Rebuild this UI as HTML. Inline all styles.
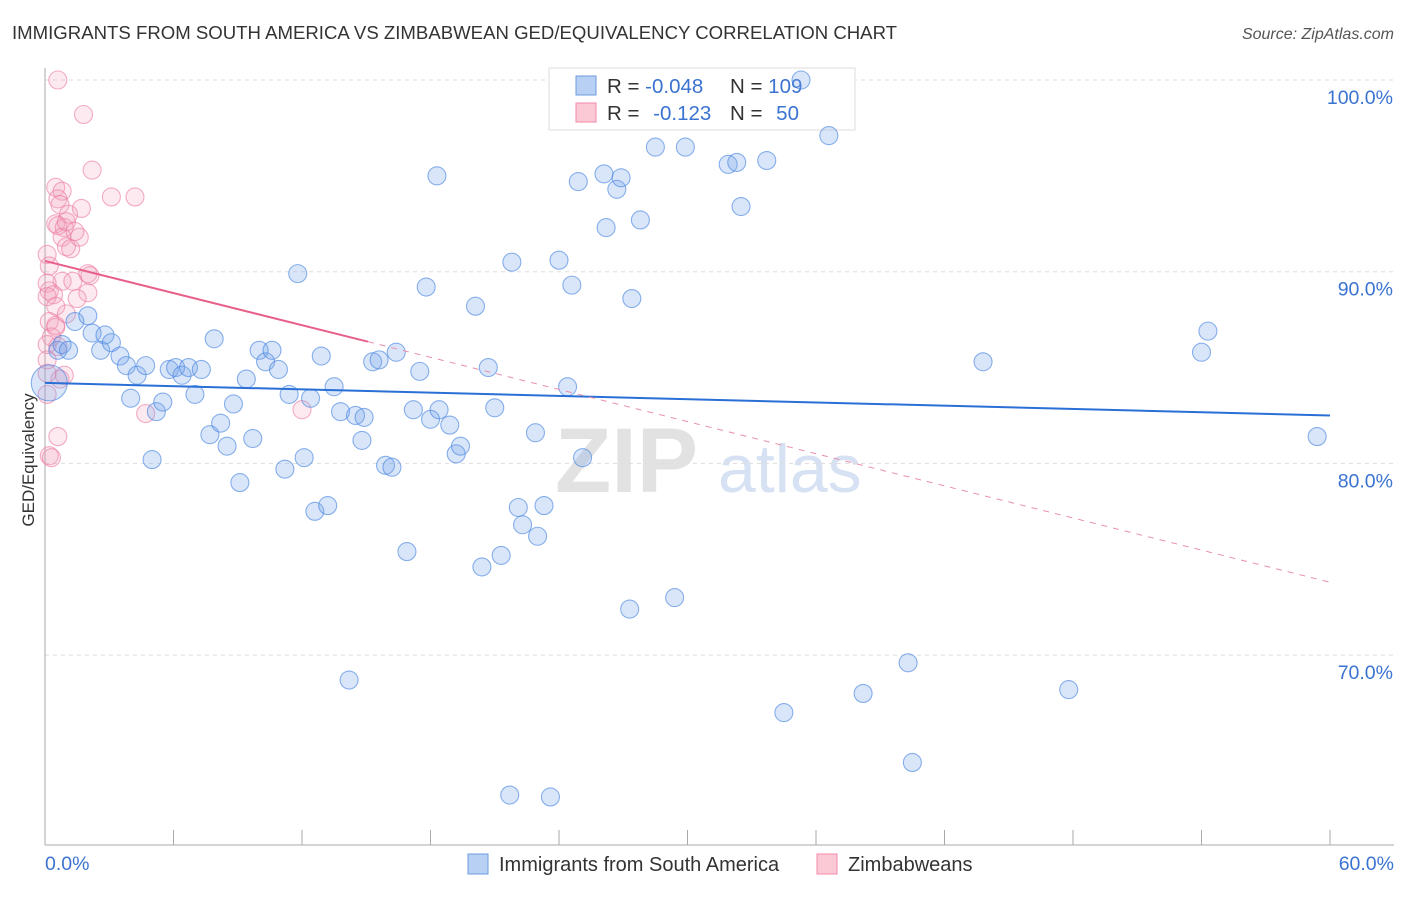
<!DOCTYPE html>
<html><head><meta charset="utf-8"><style>
body{margin:0;background:#fff;font-family:"Liberation Sans",sans-serif;}
svg text{font-family:"Liberation Sans",sans-serif;}
</style></head><body>
<svg width="1406" height="892" xmlns="http://www.w3.org/2000/svg" id="chart">
<text x="12" y="39" font-size="18.6" fill="#333">IMMIGRANTS FROM SOUTH AMERICA VS ZIMBABWEAN GED/EQUIVALENCY CORRELATION CHART</text>
<text x="1394" y="39" font-size="16" fill="#555" text-anchor="end" font-style="italic">Source: ZipAtlas.com</text>
<text transform="translate(34,460) rotate(-90)" font-size="17" fill="#333" text-anchor="middle">GED/Equivalency</text>
<g><text x="555" y="492" font-size="92" fill="#e2e2e2" font-family="Liberation Serif" font-weight="bold">ZIP</text><text x="718" y="492" font-size="68" fill="#d6e2f3">atlas</text></g>
<g id="grid"></g><g id="axes"></g>
<g>
<rect x="549" y="68" width="306" height="62" fill="#fff" stroke="#ddd"/>
<rect x="576" y="76" width="20" height="19" fill="#b7d0f3" stroke="#6d9be0"/>
<rect x="576" y="103" width="20" height="19" fill="#fbc8d6" stroke="#f08aaa"/>
<text x="607" y="93" font-size="20.5" fill="#333">R = <tspan fill="#3b73d1">-0.048</tspan></text>
<text x="730" y="93" font-size="20.5" fill="#333">N = <tspan fill="#3b73d1">109</tspan></text>
<text x="607" y="120" font-size="20.5" fill="#333">R = <tspan fill="#3b73d1" dx="8">-0.123</tspan></text>
<text x="730" y="120" font-size="20.5" fill="#333">N = <tspan fill="#3b73d1" dx="8">50</tspan></text>
</g>
<g id="marks"></g><g id="trends"></g>
<g>
<rect x="468" y="854" width="20" height="20" fill="#b7d0f3" stroke="#6d9be0"/>
<text x="499" y="871" font-size="20" fill="#333">Immigrants from South America</text>
<rect x="817" y="854" width="20" height="20" fill="#fbc8d6" stroke="#f08aaa"/>
<text x="848" y="871" font-size="20" fill="#333">Zimbabweans</text>
</g>
</svg>
<script>
const xTicks=[0,6,12,18,24,30,36,42,48,54,60];
const yTicks=[70,80,90,100];
const yTickLabels=["70.0%","80.0%","90.0%","100.0%"];
const xLabels=["0.0%","60.0%"];
const blueX=[0.2,0.6,0.8,1.1,1.4,2.0,2.2,2.6,2.8,3.1,3.5,3.8,4.3,4.7,4.0,5.2,5.5,5.0,5.8,6.1,6.4,6.7,7.0,7.3,7.7,7.9,8.2,8.5,8.8,9.1,9.4,9.7,10.0,10.3,10.6,10.9,11.2,11.4,11.8,12.1,12.4,12.6,12.9,13.2,13.5,13.8,14.2,14.5,14.8,14.9,15.3,15.6,15.9,16.2,16.4,16.9,17.2,17.5,17.8,18.0,18.3,18.4,18.9,19.2,19.4,20.1,20.4,20.7,21.0,21.3,21.7,21.8,22.1,22.3,22.9,23.0,23.3,23.6,24.0,24.4,24.6,24.9,25.1,26.1,26.2,26.7,26.9,27.3,27.4,27.8,28.5,29.4,29.9,31.9,32.3,32.5,33.7,34.5,35.3,36.6,38.2,40.3,40.5,43.8,47.8,54.0,54.3,59.4];
const blueY=[84.2,85.9,86.2,85.9,87.4,87.7,86.8,85.9,86.7,86.3,85.6,85.1,84.6,85.1,83.4,82.7,83.2,80.2,84.9,85.0,84.6,85.0,83.6,84.9,81.5,86.5,82.1,80.9,83.1,79.0,84.4,81.3,85.9,85.3,85.9,84.9,79.7,83.6,89.9,80.3,83.4,77.5,85.6,77.8,84.0,82.7,68.7,82.5,81.2,82.4,85.3,85.4,79.9,79.8,85.8,75.4,82.8,84.8,89.2,82.3,95.0,82.8,82.0,80.5,80.9,88.2,74.6,85.0,82.9,75.2,62.7,90.5,77.7,76.8,81.6,76.2,77.8,62.6,90.6,84.0,89.3,94.7,80.3,95.1,92.3,94.3,94.9,72.4,88.6,92.7,96.5,73.0,96.5,95.6,95.7,93.4,95.8,67.0,100.0,97.1,68.0,69.6,64.4,85.3,68.2,85.8,86.9,81.4];
const pinkX=[0.6,1.8,2.2,0.5,0.8,0.6,0.7,0.5,1.1,0.6,0.9,1.7,3.1,4.2,0.8,1.0,1.2,1.6,0.1,0.2,2.0,2.1,0.8,1.3,0.1,0.2,0.4,0.1,2.0,0.5,1.0,0.2,0.5,0.3,0.1,0.6,0.1,0.1,4.7,12.0,0.6,0.2,0.3,0.5,0.1,0.7,0.9,1.0,1.4,1.5];
const pinkY=[100.0,98.2,95.3,94.4,94.2,93.8,93.5,92.5,93.0,92.4,92.3,93.3,93.9,93.9,91.8,91.3,91.2,91.8,90.9,90.3,89.9,89.8,89.5,89.5,89.4,89.0,88.8,88.7,88.9,88.2,87.8,87.4,87.1,86.6,86.2,86.1,84.7,83.6,82.6,82.8,81.4,80.4,80.3,87.2,85.4,84.4,84.6,92.6,92.1,88.6];
const blueTrend=[[0,84.2],[60,82.5]];
const pinkTrendSolid=[[0,90.56],[15.08,86.35]];
const pinkTrendDash=[[15.08,86.35],[60,73.8]];
const NS="http://www.w3.org/2000/svg";
const X0=45,X1=1330,Y100=80,PX10=191.7;
const xs=v=>X0+(v/60)*(X1-X0);
const ys=v=>Y100+(100-v)/10*PX10;
function mk(tag,parent,attrs){const e=document.createElementNS(NS,tag);for(const k in attrs)e.setAttribute(k,attrs[k]);document.getElementById(parent).appendChild(e);return e;}
yTicks.forEach((t,i)=>{
 const l=mk('line','grid',{x1:X0,x2:1394,y1:ys(t),y2:ys(t),stroke:'#ddd','stroke-dasharray':'4,4'});
 
 
 const tx=mk('text','grid',{x:1393,y:ys(t)+24,'font-size':19.5,fill:'#3b73d1','text-anchor':'end'});
 tx.textContent=yTickLabels[i];
 
 
});
const ax=mk('line','axes',{x1:X0,x2:X0,y1:68,y2:845,stroke:'#aaa'});


const bx=mk('line','axes',{x1:X0,x2:1394,y1:845,y2:845,stroke:'#aaa'});


xTicks.forEach(t=>{const l=mk('line','axes',{x1:xs(t),x2:xs(t),y1:830,y2:845,stroke:'#aaa'});
 
 });
[[0,'start',45],[60,'end',1394]].forEach((d,i)=>{const t=mk('text','axes',{x:d[2],y:870,'font-size':19.5,fill:'#3b73d1','text-anchor':d[1]});t.textContent=xLabels[i];
 
 });
function pts(X,Y,fill,stroke,name){X.forEach((x,i)=>{const big=(name==='blue-point'&&i===0);
 const c=mk('circle','marks',{cx:xs(x),cy:ys(Y[i]),r:big?18:9,fill:fill,stroke:stroke,'stroke-width':1.1});
 
 });}
pts(pinkX,pinkY,'rgba(243,160,188,0.22)','rgba(236,120,160,0.6)','pink-point');
pts(blueX,blueY,'rgba(120,165,235,0.28)','rgba(70,130,225,0.62)','blue-point');
function tl(p,stroke,w,dash,name){const l=mk('line','trends',{x1:xs(p[0][0]),y1:ys(p[0][1]),x2:xs(p[1][0]),y2:ys(p[1][1]),stroke:stroke,'stroke-width':w});if(dash)l.setAttribute('stroke-dasharray',dash);
 
 }
tl(blueTrend,'#2a6fd6',2,null,'blue-trend-line');
tl(pinkTrendSolid,'#e8608a',2,null,'pink-trend-line');
tl(pinkTrendDash,'#eb8fab',1,'6,6','pink-trend-extension');
</script>
</body></html>
